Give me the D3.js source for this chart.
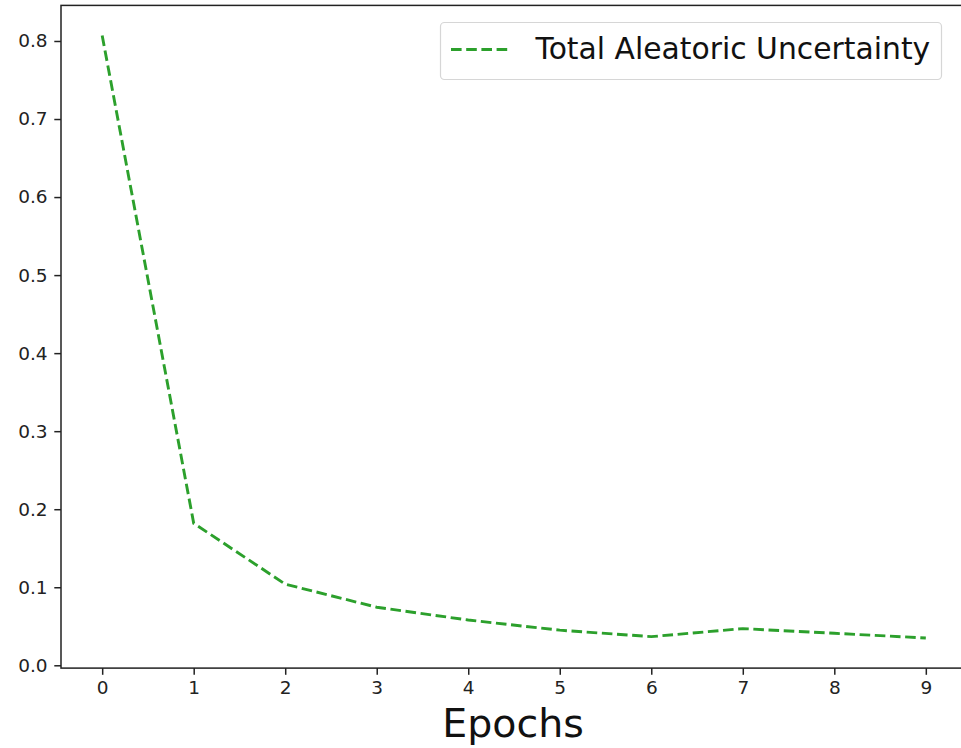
<!DOCTYPE html>
<html>
<head>
<meta charset="utf-8">
<script src="https://cdn.jsdelivr.net/npm/d3@7"></script>
<style>
  body { margin: 0; background: #fff; overflow: hidden; }
  svg { display: block; font-family: "DejaVu Sans", sans-serif; }
</style>
</head>
<body>
<svg id="chart" width="961" height="748"></svg>
<script>
// data
var epochs = [0, 1, 2, 3, 4, 5, 6, 7, 8, 9];
var aleatoric = [0.807, 0.182, 0.104, 0.0744, 0.058, 0.045, 0.0367, 0.047, 0.041, 0.035];
var yTicks = [0.0, 0.1, 0.2, 0.3, 0.4, 0.5, 0.6, 0.7, 0.8];
var seriesName = "Total Aleatoric Uncertainty";
var xLabel = "Epochs";

function drawChart(){
  var mLeft = 61, mRight = 967, mTop = 5.4, mBottom = 668.1;
  var tickLen = 6.7, tickPad = 6.7;

  var svg = d3.select('#chart');

  // matplotlib style 5% margins
  var xPad = (d3.max(epochs) - d3.min(epochs)) * 0.05;
  var yPad = (d3.max(aleatoric) - d3.min(aleatoric)) * 0.05;

  var x = d3.scaleLinear()
    .domain([d3.min(epochs) - xPad, d3.max(epochs) + xPad])
    .range([mLeft, mRight]);
  var y = d3.scaleLinear()
    .domain([d3.min(aleatoric) - yPad, d3.max(aleatoric) + yPad])
    .range([mBottom, mTop]);

  // axes
  var xAxis = svg.append('g')
    .attr('transform', 'translate(0,' + mBottom + ')')
    .call(d3.axisBottom(x).tickValues(epochs).tickSize(tickLen).tickPadding(tickPad - 0.5).tickFormat(d3.format('d')));
  var yAxis = svg.append('g')
    .attr('transform', 'translate(' + mLeft + ',0)')
    .call(d3.axisLeft(y).tickValues(yTicks).tickSize(tickLen).tickPadding(tickPad).tickFormat(d3.format('.1f')));

  [xAxis, yAxis].forEach(function(g){
    g.select('.domain').remove();
    g.selectAll('.tick line').attr('stroke', '#222').attr('stroke-width', 1.5);
    g.selectAll('.tick text').attr('fill', '#222').style('font-size', '18.5px').style('font-family', '"DejaVu Sans", sans-serif');
  });

  // spines
  svg.append('rect')
    .attr('x', mLeft).attr('y', mTop)
    .attr('width', mRight - mLeft).attr('height', mBottom - mTop)
    .attr('fill', 'none').attr('stroke', '#222').attr('stroke-width', 1.5);

  // the line
  var line = d3.line()
    .x(function(d, i){ return x(epochs[i]); })
    .y(function(d){ return y(d); });

  svg.append('path')
    .datum(aleatoric)
    .attr('d', line)
    .attr('fill', 'none')
    .attr('stroke', '#2ca02c')
    .attr('stroke-width', 2.9)
    .attr('stroke-dasharray', '10.6,4.6');

  // x label
  svg.append('text')
    .attr('x', (mLeft + mRight) / 2 - 1)
    .attr('y', 737)
    .attr('text-anchor', 'middle')
    .style('font-size', '39.5px')
    .attr('fill', '#111')
    .text(xLabel);

  // legend
  var legend = svg.append('g');
  legend.append('rect')
    .attr('x', 440.5).attr('y', 22.5)
    .attr('width', 501).attr('height', 57)
    .attr('rx', 4)
    .attr('fill', '#fff')
    .attr('stroke', '#d6d6d6')
    .attr('stroke-width', 1.2);
  legend.append('line')
    .attr('x1', 451).attr('x2', 511)
    .attr('y1', 49.5).attr('y2', 49.5)
    .attr('stroke', '#2ca02c')
    .attr('stroke-width', 2.9)
    .attr('stroke-dasharray', '10.6,4.6');
  legend.append('text')
    .attr('x', 535.5)
    .attr('y', 58.5)
    .style('font-size', '29.8px')
    .attr('fill', '#111')
    .text(seriesName);
}

drawChart();
</script>
</body>
</html>
